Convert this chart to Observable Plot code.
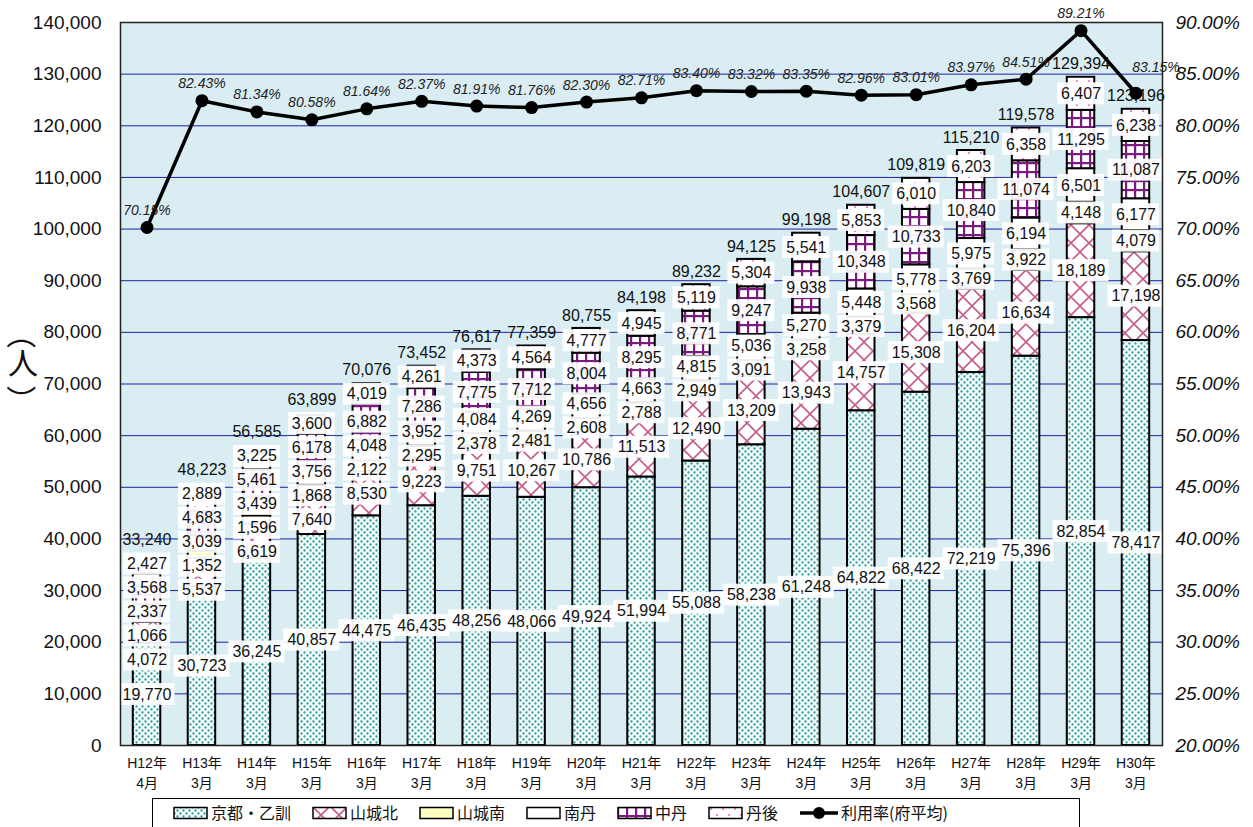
<!DOCTYPE html>
<html><head><meta charset="utf-8">
<script src="https://cdn.jsdelivr.net/npm/d3@7"></script>
<script src="https://cdn.jsdelivr.net/npm/@observablehq/plot@0.6"></script>
<style>
body{margin:0;background:#fff;font-family:"Liberation Sans","Noto Sans CJK JP",sans-serif;}
#wrap{position:relative;width:1253px;height:827px;overflow:hidden;background:#fff}
#chart svg{overflow:visible;display:block}
.yl{position:absolute;left:8px;width:30px;height:30px;line-height:30px;text-align:center;font-family:"Noto Sans CJK JP",sans-serif;font-size:30px;color:#111}
.yl.rot{transform:rotate(90deg)}
#legend{position:absolute;left:152px;top:798px;width:928px;height:40px;border:1.3px solid #000;box-sizing:border-box;display:flex;align-items:flex-start;padding-top:5px;padding-left:20px;font-family:"Noto Sans CJK JP",sans-serif;font-size:16px;color:#111}
#legend .it{display:flex;align-items:center;margin-right:21px;line-height:17px;height:17px}
#legend svg{margin-right:2px}
</style></head><body>
<svg width="0" height="0" style="position:absolute">
<defs>
<pattern id="p0" width="6" height="6" patternUnits="userSpaceOnUse">
<rect width="6" height="6" fill="#f2fafa"/>
<circle cx="1.5" cy="1.5" r="1.15" fill="#2e9b98"/>
<circle cx="4.5" cy="4.5" r="1.15" fill="#2e9b98"/>
</pattern>
<pattern id="p1" width="18" height="18" patternUnits="userSpaceOnUse">
<rect width="18" height="18" fill="#ffffff"/>
<path d="M0,0L18,18M18,0L0,18" stroke="#c45d8c" stroke-width="1.6" fill="none"/>
</pattern>
<pattern id="p2" width="8" height="8" patternUnits="userSpaceOnUse">
<rect width="8" height="8" fill="#ffffc0"/>
</pattern>
<pattern id="p3" width="8" height="8" patternUnits="userSpaceOnUse">
<rect width="8" height="8" fill="#ffffff"/>
</pattern>
<pattern id="p4" width="9" height="9" patternUnits="userSpaceOnUse">
<rect width="9" height="9" fill="#ffffff"/>
<rect x="0" y="0" width="2.2" height="9" fill="#7a1a7e"/>
<rect x="0" y="0" width="9" height="2.2" fill="#7a1a7e"/>
</pattern>
<pattern id="p5" width="12" height="12" patternUnits="userSpaceOnUse">
<rect width="12" height="12" fill="#ffffff"/>
<circle cx="3" cy="3" r="1" fill="#ff55cc"/>
<circle cx="9" cy="9" r="1" fill="#ff55cc"/>
</pattern>
</defs>
</svg>
<div id="wrap">
<div id="chart"></div>
<div class="yl rot" style="top:319px">（</div>
<div class="yl" style="top:346px">人</div>
<div class="yl rot" style="top:385px">）</div>
<div id="legend"></div>
</div>
<script>
const categories = ["H12年\n4月","H13年\n3月","H14年\n3月","H15年\n3月","H16年\n3月","H17年\n3月","H18年\n3月","H19年\n3月","H20年\n3月","H21年\n3月","H22年\n3月","H23年\n3月","H24年\n3月","H25年\n3月","H26年\n3月","H27年\n3月","H28年\n3月","H29年\n3月","H30年\n3月"];
const seriesNames = ["京都・乙訓","山城北","山城南","南丹","中丹","丹後"];
const kyotoOtokuni = [19770,30723,36245,40857,44475,46435,48256,48066,49924,51994,55088,58238,61248,64822,68422,72219,75396,82854,78417];
const yamashiroKita = [4072,5537,6619,7640,8530,9223,9751,10267,10786,11513,12490,13209,13943,14757,15308,16204,16634,18189,17198];
const yamashiroMinami = [1066,1352,1596,1868,2122,2295,2378,2481,2608,2788,2949,3091,3258,3379,3568,3769,3922,4148,4079];
const nantan = [2337,3039,3439,3756,4048,3952,4084,4269,4656,4663,4815,5036,5270,5448,5778,5975,6194,6501,6177];
const chutan = [3568,4683,5461,6178,6882,7286,7775,7712,8004,8295,8771,9247,9938,10348,10733,10840,11074,11295,11087];
const tango = [2427,2889,3225,3600,4019,4261,4373,4564,4777,4945,5119,5304,5541,5853,6010,6203,6358,6407,6238];
const usageRate = [70.15,82.43,81.34,80.58,81.64,82.37,81.91,81.76,82.30,82.71,83.40,83.32,83.35,82.96,83.01,83.97,84.51,89.21,83.15];
const leftTicks = [0,10000,20000,30000,40000,50000,60000,70000,80000,90000,100000,110000,120000,130000,140000];
const lineLegend = "利用率(府平均)";

const seriesValues = [kyotoOtokuni, yamashiroKita, yamashiroMinami, nantan, chutan, tango];
const patterns = seriesNames.map((s, i) => `url(#p${i})`);

// layout
const W = 1253, H = 795, mL = 120, mR = 91, mT = 22, mB = 50;
const yMax = 140000;
const pIn = 0.5, pOut = 0.233;
const plotH = H - mT - mB;
const upp = yMax / plotH; // data units per pixel
const step = (W - mL - mR) / (categories.length - pIn + 2 * pOut);
const bw = step * (1 - pIn);
// secondary axis mapping: 20% -> 0, 90% -> 140000
const rateToY = r => (r - 20) * (yMax / 70);
const yToRate = v => v * 70 / yMax + 20;

// stacked rows
const rows = [];
categories.forEach((c, i) => seriesValues.forEach((arr, s) => rows.push({cat: c, series: seriesNames[s], value: arr[i]})));

// labels with overlap resolution
const fmt = d3.format(",");
const G = 24 * upp;
const segLabels = [], totalLabels = [];
categories.forEach((c, i) => {
  let cum = 0;
  const items = [];
  seriesValues.forEach((arr, s) => {
    const v = arr[i];
    items.push({cat: c, text: fmt(v), desired: cum + v / 2, kind: "seg"});
    cum += v;
  });
  items.push({cat: c, text: fmt(cum), desired: cum + 13 * upp, kind: "total"});
  items.sort((a, b) => b.desired - a.desired);
  let groups = items.map(it => ({items: [it]}));
  const center = g => d3.mean(g.items, d => d.desired);
  const top = g => center(g) + (g.items.length - 1) * G / 2;
  let merged = true;
  while (merged) {
    merged = false;
    for (let k = 1; k < groups.length; k++) {
      const a = groups[k - 1], b = groups[k];
      const aBottom = top(a) - (a.items.length - 1) * G;
      if (aBottom - top(b) < G) {
        a.items.push(...b.items);
        groups.splice(k, 1);
        merged = true;
        break;
      }
    }
  }
  groups.forEach(g => { const t = top(g); g.items.forEach((it, k) => { it.y = t - k * G; }); });
  items.forEach(it => (it.kind === "seg" ? segLabels : totalLabels).push(it));
});

const rateRows = categories.map((c, i) => ({cat: c, rate: usageRate[i], last: i === categories.length - 1}));

const boxH = 11 * upp;
const boxMarks = [5, 6, 7].map(len => {
  const w = len * 9 + 2;
  const inset = (bw - w) / 2;
  return Plot.barY(segLabels.filter(d => d.text.length === len), {
    x: "cat", y1: d => d.y - boxH, y2: d => d.y + boxH,
    fill: "white", fillOpacity: 0.93, insetLeft: inset, insetRight: inset
  });
});

const rateText = {x: "cat", y: d => rateToY(d.rate), text: d => d.rate.toFixed(2) + "%", fontSize: 14, fontStyle: "italic", fill: "#222"};

const plot = Plot.plot({
  width: W, height: H,
  marginLeft: mL, marginRight: mR, marginTop: mT, marginBottom: mB,
  style: {fontFamily: '"Liberation Sans","Noto Sans CJK JP",sans-serif', background: "transparent", color: "#111"},
  x: {type: "band", domain: categories, paddingInner: pIn, paddingOuter: pOut, round: false, label: null},
  y: {domain: [0, yMax], label: null},
  color: {type: "ordinal", domain: seriesNames, range: patterns},
  marks: [
    Plot.frame({fill: "#d9edf3"}),
    Plot.gridY({ticks: leftTicks, stroke: "#1f1f9e", strokeOpacity: 1, strokeWidth: 1}),
    Plot.barY(rows, {x: "cat", y: "value", fill: "series", stroke: "black", strokeWidth: 2}),
    ...boxMarks,
    Plot.text(segLabels, {x: "cat", y: "y", text: "text", fontSize: 16, fill: "#111"}),
    Plot.text(totalLabels, {x: "cat", y: "y", text: "text", fontSize: 16, fill: "#111"}),
    Plot.line(rateRows, {x: "cat", y: d => rateToY(d.rate), stroke: "black", strokeWidth: 3.5}),
    Plot.dot(rateRows, {x: "cat", y: d => rateToY(d.rate), r: 6.5, fill: "black"}),
    Plot.text(rateRows.filter(d => !d.last), {...rateText, dy: -17}),
    Plot.text(rateRows.filter(d => d.last), {...rateText, dy: -26, dx: 20}),
    Plot.frame({stroke: "#222", strokeWidth: 1.5}),
    Plot.axisY({ticks: leftTicks, tickFormat: d3.format(","), tickSize: 0, tickPadding: 19, fontSize: 19, label: null}),
    Plot.axisY({anchor: "right", ticks: leftTicks, tickFormat: v => yToRate(v).toFixed(2) + "%", tickSize: 0, tickPadding: 13, fontSize: 19, fontStyle: "italic", label: null}),
    Plot.axisX({tickSize: 0, tickPadding: 9, fontSize: 14, lineHeight: 1.4, label: null})
  ]
});
document.getElementById("chart").appendChild(plot);

// legend
const legend = document.getElementById("legend");
seriesNames.forEach((s, i) => {
  const it = document.createElement("div");
  it.className = "it";
  it.innerHTML = `<svg width="36" height="14"><rect x="1" y="1.5" width="33" height="11" fill="${patterns[i]}" stroke="#000" stroke-width="1.5"/></svg><span>${s}</span>`;
  legend.appendChild(it);
});
const li = document.createElement("div");
li.className = "it";
li.innerHTML = `<svg width="40" height="14"><line x1="1" y1="7" x2="39" y2="7" stroke="#000" stroke-width="3.5"/><circle cx="20" cy="7" r="6" fill="#000"/></svg><span>${lineLegend}</span>`;
legend.appendChild(li);
</script>
</body></html>
